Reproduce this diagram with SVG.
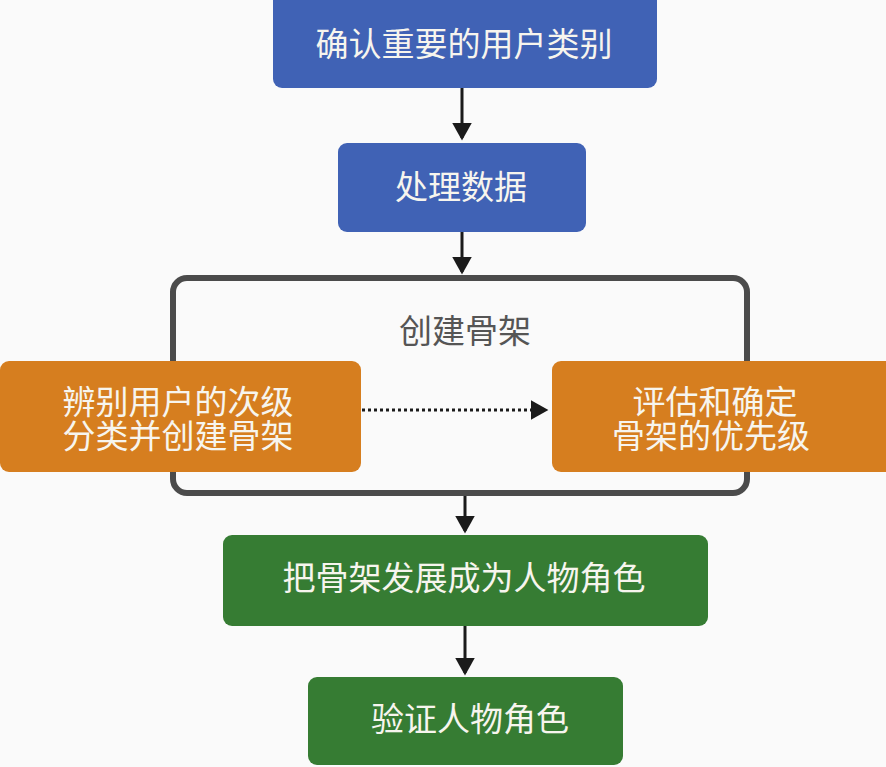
<svg xmlns="http://www.w3.org/2000/svg" width="886" height="767" viewBox="0 0 886 767">
<defs>
<marker id="ah" markerWidth="6" markerHeight="7" refX="5" refY="3.25" orient="auto" markerUnits="strokeWidth">
<path d="M0,0 L5.8,3.25 L0,6.5 Z" fill="#1a1a1a"/>
</marker>
<style>
.t{font-family:"Liberation Serif","Noto Sans CJK SC",serif;font-size:33px;fill:#f7f5ee;text-anchor:middle;dominant-baseline:central}
.blue{fill:#4062b5}
.orange{fill:#d67e1f}
.green{fill:#367c33}
.c{stroke:#1a1a1a;stroke-width:3;fill:none}
</style>
</defs>
<rect width="886" height="767" fill="#fafafa"/>
<g id="container">
<rect x="173" y="278" width="574" height="215" rx="14" fill="none" stroke="#4b4b4b" stroke-width="6"/>
<text class="t" x="465" y="332" style="fill:#555555">创建骨架</text>
</g>
<g id="connectors">
<line class="c" x1="462" y1="88" x2="462" y2="138" marker-end="url(#ah)"/>
<line class="c" x1="462" y1="232" x2="462" y2="272" marker-end="url(#ah)"/>
<line class="c" x1="465" y1="496" x2="465" y2="531" marker-end="url(#ah)"/>
<line class="c" x1="465" y1="626" x2="465" y2="673" marker-end="url(#ah)"/>
<line class="c" x1="362" y1="410" x2="546" y2="410" stroke-dasharray="3 3" marker-end="url(#ah)"/>
</g>
<g id="n1">
<rect class="blue" x="273" y="-10" width="384" height="98" rx="9"/>
<text class="t" x="464" y="45">确认重要的用户类别</text>
</g>
<g id="n2">
<rect class="blue" x="338" y="143" width="248" height="89" rx="9"/>
<text class="t" x="461" y="188">处理数据</text>
</g>
<g id="n3">
<rect class="orange" x="0" y="361" width="361" height="111" rx="9"/>
<text class="t" x="178" y="403">辨别用户的次级</text>
<text class="t" x="178" y="437">分类并创建骨架</text>
</g>
<g id="n4">
<rect class="orange" x="552" y="361" width="344" height="111" rx="9"/>
<text class="t" x="715" y="403">评估和确定</text>
<text class="t" x="711" y="437">骨架的优先级</text>
</g>
<g id="n5">
<rect class="green" x="223" y="535" width="485" height="91" rx="9"/>
<text class="t" x="464" y="579">把骨架发展成为人物角色</text>
</g>
<g id="n6">
<rect class="green" x="308" y="677" width="315" height="88" rx="9"/>
<text class="t" x="470" y="720">验证人物角色</text>
</g>
</svg>
